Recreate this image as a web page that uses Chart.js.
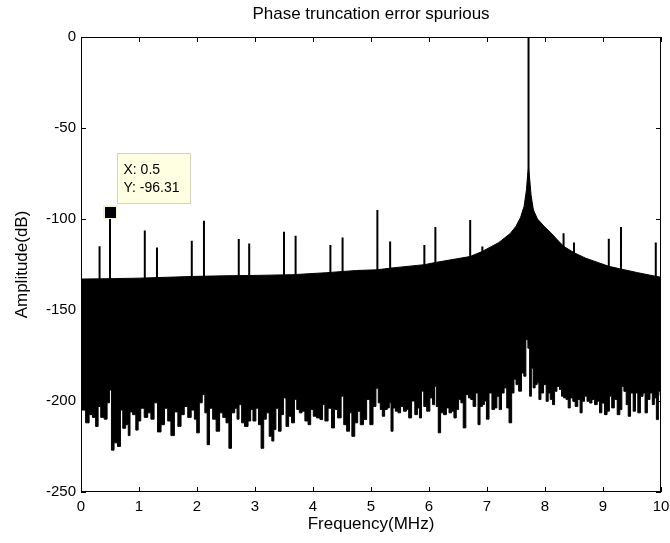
<!DOCTYPE html>
<html>
<head>
<meta charset="utf-8">
<script src="https://cdn.jsdelivr.net/npm/chart.js@4.4.1/dist/chart.umd.min.js"></script>
<style>
  html, body { margin: 0; padding: 0; background: #fff; }
</style>
</head>
<body>
<canvas id="chart" width="670" height="543"></canvas>
<script>
// axis ticks
const xTicks = [0, 1, 2, 3, 4, 5, 6, 7, 8, 9, 10];
const yTicks = [-250, -200, -150, -100, -50, 0];

// top edge of the noise floor [MHz, dB]
const noiseTop = [
  [0, -133], [0.5, -132.8], [1, -132.5], [1.5, -132], [2, -131.5], [2.5, -131.2],
  [3, -131], [3.65, -130.6], [4.23, -129.5], [4.75, -128.3], [5.11, -127.9],
  [5.33, -127], [5.92, -125.1], [6.11, -123.9], [6.71, -120.6], [6.92, -117.8],
  [7.2, -113], [7.4, -108], [7.5, -104], [7.58, -99], [7.64, -93], [7.68, -84],
  [7.70, -76], [7.716, -72], [7.73, -76], [7.76, -87], [7.8, -95], [7.87, -100],
  [8.0, -104.5], [8.1, -107.5], [8.2, -111], [8.32, -115], [8.5, -118.5],
  [8.7, -121.5], [9.1, -126], [9.31, -127.5], [9.6, -129.5], [9.91, -131.5], [10, -132]
];

// bottom edge of the noise floor [MHz, dB]
const noiseBottom = [
  [0, -205], [0.05, -205], [0.11, -212], [0.17, -207.5], [0.225, -209], [0.28, -214],
  [0.31, -203], [0.37, -209], [0.43, -210], [0.47, -201], [0.51, -194], [0.54, -227],
  [0.60, -223], [0.66, -225], [0.70, -205], [0.74, -215], [0.80, -213], [0.83, -219],
  [0.86, -206], [0.92, -207.5], [0.97, -216], [1.00, -211], [1.06, -204], [1.12, -209],
  [1.18, -206.5], [1.23, -210], [1.29, -201], [1.35, -217], [1.41, -213], [1.47, -204],
  [1.52, -211], [1.58, -219], [1.64, -206], [1.70, -214], [1.75, -207.5], [1.81, -203],
  [1.87, -209], [1.93, -205], [1.98, -210], [2.01, -217.5], [2.07, -201], [2.11, -196.5],
  [2.16, -206.5], [2.19, -224], [2.24, -204], [2.30, -210], [2.36, -216.6], [2.42, -206.5],
  [2.47, -209], [2.53, -212], [2.57, -226], [2.62, -206.5], [2.68, -204], [2.70, -210],
  [2.75, -202], [2.79, -212], [2.85, -214], [2.91, -211], [2.94, -204.7], [2.99, -211],
  [3.04, -204], [3.08, -213], [3.13, -226], [3.17, -210], [3.22, -206.5], [3.27, -219.4],
  [3.31, -222], [3.34, -215.7], [3.38, -204], [3.43, -216.6], [3.47, -207.5], [3.51, -198.3],
  [3.56, -214], [3.60, -208.4], [3.66, -212], [3.70, -199.2], [3.74, -204.7], [3.79, -206.5],
  [3.83, -205.6], [3.89, -211], [3.94, -213], [3.98, -204.7], [4.03, -208.4], [4.09, -209.3],
  [4.15, -210.2], [4.18, -202], [4.23, -211], [4.29, -204], [4.35, -214.8], [4.39, -204.7],
  [4.46, -209.3], [4.51, -197.4], [4.55, -213], [4.61, -216.6], [4.65, -206.5], [4.69, -219.4],
  [4.75, -212], [4.79, -205.6], [4.84, -213], [4.90, -210.2], [4.95, -199.2], [5.01, -213],
  [5.06, -203], [5.11, -193], [5.14, -201], [5.18, -204.7], [5.21, -208.4], [5.26, -204.7],
  [5.30, -203.8], [5.33, -201], [5.36, -216.6], [5.40, -203.8], [5.44, -205.6], [5.49, -206.5],
  [5.53, -203], [5.59, -205.6], [5.63, -204.7], [5.67, -209.3], [5.73, -200], [5.78, -207.5],
  [5.82, -203.8], [5.85, -209.3], [5.89, -194.6], [5.93, -203], [5.99, -205.6], [6.04, -198.3],
  [6.08, -202], [6.11, -192], [6.14, -203], [6.18, -217.5], [6.22, -206.5], [6.28, -207.5],
  [6.32, -203.8], [6.37, -206.5], [6.41, -205.6], [6.45, -209.3], [6.49, -204.7], [6.53, -199.2],
  [6.57, -201], [6.61, -214.8], [6.66, -196.5], [6.70, -198.3], [6.74, -199.2], [6.78, -203],
  [6.83, -195.6], [6.86, -213], [6.90, -203], [6.94, -202], [6.97, -200], [7.01, -210],
  [7.06, -195.6], [7.11, -204.7], [7.15, -203.8], [7.19, -197.4], [7.23, -204.7], [7.27, -195.6],
  [7.32, -192.8], [7.36, -203.8], [7.40, -212], [7.45, -195.6], [7.48, -188], [7.52, -191],
  [7.57, -194.6], [7.62, -184.6], [7.65, -186.4], [7.69, -166.3], [7.72, -171], [7.75, -197.4],
  [7.78, -182], [7.81, -192.8], [7.85, -191], [7.88, -190], [7.91, -199.2], [7.95, -195.6],
  [8.00, -191], [8.04, -200.2], [8.07, -195.6], [8.11, -199.2], [8.15, -202], [8.18, -194.7],
  [8.23, -192], [8.27, -193.7], [8.30, -197.4], [8.34, -198.3], [8.39, -199.2], [8.41, -203.8],
  [8.46, -198.3], [8.50, -200.2], [8.54, -203], [8.59, -199.2], [8.62, -206.5], [8.66, -200.2],
  [8.70, -197.4], [8.75, -200.2], [8.79, -201.1], [8.83, -199.2], [8.88, -202], [8.92, -200.2],
  [8.96, -206.5], [9.00, -201.1], [9.05, -207.5], [9.09, -205.6], [9.13, -197.4], [9.17, -203.8],
  [9.22, -199.2], [9.27, -207.5], [9.31, -204.7], [9.34, -192], [9.38, -194.7], [9.42, -202],
  [9.45, -208.4], [9.50, -195.6], [9.54, -205.6], [9.58, -195.6], [9.62, -206.5], [9.67, -197.4],
  [9.71, -195.6], [9.74, -206.5], [9.79, -199.2], [9.83, -195.6], [9.87, -202], [9.90, -198.3],
  [9.94, -210.2], [9.97, -194.7], [10, -197]
];

// spurious lines and the carrier
const spurFreq  = [0.32, 0.5, 1.1, 1.31, 1.91, 2.12, 2.72, 2.9, 3.5, 3.7, 4.3, 4.51,
                   5.11, 5.33, 5.92, 6.11, 6.71, 6.92, 7.716, 8.32, 8.5, 9.1, 9.31, 9.91];
const spurLevel = [-115, -96.31, -106.3, -115.6, -112, -101, -111, -113.4, -107, -109.2, -114.3, -110.1,
                   -95, -112.3, -114.3, -104.4, -100.6, -115.1, 0, -107.8, -112.9, -110.9, -104.4, -112.9];

// data tip
const tipX = 0.5;
const tipY = -96.31;

const FONT = '"Liberation Sans", Arial, Helvetica, sans-serif';

const spurPoints = [];
spurFreq.forEach((f, i) => {
  spurPoints.push({ x: f, y: -150 }, { x: f, y: spurLevel[i] }, { x: f, y: null });
});

const framePlugin = {
  id: 'frame',
  afterDatasetsDraw(chart) {
    const { ctx, chartArea: a, scales: { x, y } } = chart;
    ctx.save();
    ctx.strokeStyle = '#000';
    ctx.lineWidth = 1;
    ctx.strokeRect(a.left + 0.5, a.top + 0.5, a.width - 1, a.height - 1);
    ctx.beginPath();
    xTicks.forEach(v => {
      const px = Math.round(x.getPixelForValue(v)) + 0.5;
      ctx.moveTo(px, a.bottom); ctx.lineTo(px, a.bottom - 5);
      ctx.moveTo(px, a.top); ctx.lineTo(px, a.top + 5);
    });
    yTicks.forEach(v => {
      const py = Math.round(y.getPixelForValue(v)) + 0.5;
      ctx.moveTo(a.left, py); ctx.lineTo(a.left + 5, py);
      ctx.moveTo(a.right, py); ctx.lineTo(a.right - 5, py);
    });
    ctx.stroke();
    ctx.restore();
  }
};

const dataTipPlugin = {
  id: 'dataTip',
  afterDraw(chart) {
    const { ctx, scales: { x, y } } = chart;
    const px = Math.round(x.getPixelForValue(tipX));
    const py = Math.round(y.getPixelForValue(tipY));
    ctx.save();
    // label box
    const bx = px + 7.5, by = py - 58.5;
    ctx.fillStyle = '#ffffe1';
    ctx.strokeStyle = '#d2d2c0';
    ctx.lineWidth = 1;
    ctx.fillRect(bx, by, 73, 50);
    ctx.strokeRect(bx, by, 73, 50);
    ctx.fillStyle = '#000';
    ctx.font = '14px ' + FONT;
    ctx.textBaseline = 'middle';
    ctx.fillText('X: ' + tipX, bx + 6, by + 17);
    ctx.fillText('Y: ' + tipY, bx + 6, by + 35);
    // marker
    ctx.fillStyle = '#f4f4cc';
    ctx.fillRect(px - 7, py - 7, 14, 14);
    ctx.fillStyle = '#000';
    ctx.fillRect(px - 5, py - 5, 11, 11);
    ctx.restore();
  }
};

new Chart(document.getElementById('chart'), {
  type: 'line',
  data: {
    datasets: [
      {
        label: 'spurs',
        data: spurPoints,
        borderColor: '#000',
        borderWidth: 2,
        pointRadius: 0,
        spanGaps: false,
        fill: false,
        order: 0
      },
      {
        label: 'floor bottom',
        data: noiseBottom.map(p => ({ x: p[0], y: p[1] })),
        borderColor: '#000',
        borderWidth: 1,
        backgroundColor: '#fff',
        pointRadius: 0,
        stepped: 'middle',
        fill: 'start',
        order: 1
      },
      {
        label: 'floor top',
        data: noiseTop.map(p => ({ x: p[0], y: p[1] })),
        borderColor: '#000',
        borderWidth: 1,
        backgroundColor: '#000',
        pointRadius: 0,
        fill: 'start',
        order: 2
      }
    ]
  },
  options: {
    responsive: false,
    animation: false,
    events: [],
    layout: { autoPadding: false, padding: { left: 0, right: 9, top: 0, bottom: 0 } },
    plugins: {
      legend: { display: false },
      tooltip: { enabled: false },
      title: {
        display: true,
        text: 'Phase truncation error spurious',
        fullSize: false,
        color: '#000',
        font: { family: FONT, size: 17, weight: 'normal' },
        padding: { top: 4, bottom: 12.6 }
      }
    },
    scales: {
      x: {
        type: 'linear',
        min: 0,
        max: 10,
        afterBuildTicks: s => { s.ticks = xTicks.map(v => ({ value: v })); },
        afterFit: s => { s.height = 51; s.paddingLeft = 0; s.paddingRight = 0; },
        grid: { display: false, drawTicks: false },
        border: { display: false },
        ticks: { color: '#000', font: { family: FONT, size: 15 }, padding: 6, maxRotation: 0 },
        title: {
          display: true,
          text: 'Frequency(MHz)',
          color: '#000',
          font: { family: FONT, size: 17 },
          padding: { top: 0, bottom: 8 }
        }
      },
      y: {
        type: 'linear',
        min: -250,
        max: 0,
        afterBuildTicks: s => { s.ticks = yTicks.map(v => ({ value: v })); },
        afterFit: s => { s.width = 81; s.paddingTop = 0; s.paddingBottom = 0; },
        grid: { display: false, drawTicks: false },
        border: { display: false },
        ticks: { color: '#000', font: { family: FONT, size: 15 }, padding: 5 },
        title: {
          display: true,
          text: 'Amplitude(dB)',
          color: '#000',
          font: { family: FONT, size: 17 },
          padding: { top: 12, bottom: 0 }
        }
      }
    }
  },
  plugins: [framePlugin, dataTipPlugin]
});
</script>
</body>
</html>
